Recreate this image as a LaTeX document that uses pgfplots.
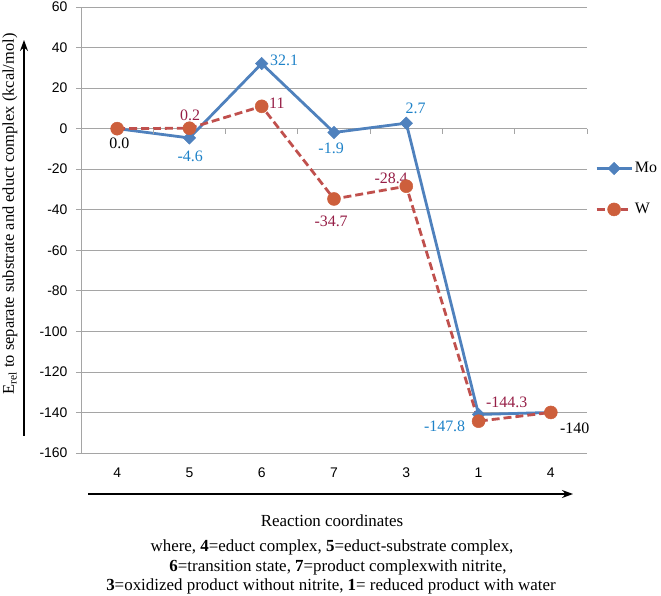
\documentclass[border=0pt]{standalone}
\usepackage{fontspec}
\setmainfont{Liberation Serif}
\setsansfont{Liberation Sans}
\usepackage{pgfplots}
\pgfplotsset{compat=1.18}
\usetikzlibrary{arrows.meta}
\definecolor{moblue}{RGB}{79,129,189}
\definecolor{wred}{RGB}{192,80,77}
\definecolor{wmark}{RGB}{205,95,60}
\definecolor{molab}{RGB}{30,130,200}
\definecolor{wlab}{RGB}{150,30,70}
\definecolor{gridg}{RGB}{165,165,165}
\begin{document}
\begin{tikzpicture}[font=\fontsize{16}{19.5}\selectfont]
\path[use as bounding box] (0,0) rectangle (661bp,596bp);
\begin{axis}[
  at={(81bp,143bp)}, anchor=south west, scale only axis,
  width=506bp, height=446bp,
  xmin=-0.5, xmax=6.5, ymin=-160, ymax=60,
  clip=false,
  ytick={-160,-140,...,60},
  xtick={0,...,6}, xticklabels={4,5,6,7,3,1,4},
  axis lines*=left,
  axis line style={draw=gridg, line width=0.8pt},
  ymajorgrids, grid style={draw=gridg, line width=0.8pt},
  x tick style={draw=none},
  y tick style={draw=gridg, line width=0.8pt},
  tick align=outside, major tick length=5bp,
  ticklabel style={font=\sffamily\fontsize{14}{16}\selectfont},
  /pgf/number format/assume math mode=true,
  yticklabel style={xshift=-5bp},
  xticklabel style={yshift=-6bp},
  legend style={at={(1,0.592)}, anchor=west, draw=none, fill=none, inner sep=0pt, xshift=8bp,
    row sep=25bp, font=\fontsize{16}{19}\selectfont},
  legend cell align=left,
  legend image code/.code={
    \draw[#1,mark=none] (0bp,0bp) -- (35bp,0bp);
    \draw[#1] plot coordinates {(17.5bp,0bp)};
  },
]
\addplot[moblue, line width=2.8pt, mark=square*, mark size=4.4bp,
  mark options={fill=moblue, draw=moblue, solid, rotate=45, line width=0.5pt}]
  coordinates {(0,0) (1,-4.6) (2,32.1) (3,-1.9) (4,2.7) (5,-141) (6,-140)};
\addlegendentry{Mo}
\addplot[wred, line width=2.8pt, dash pattern=on 8pt off 4pt, mark=*, mark size=6.5bp,
  mark options={fill=wmark, draw=wmark, solid, line width=0.5pt}]
  coordinates {(0,0) (1,0.2) (2,11) (3,-34.7) (4,-28.4) (5,-144.3) (6,-140)};
\addlegendentry{W}
\pgfplotsinvokeforeach{0.5,1.5,2.5,3.5,4.5,5.5,6.5}{
  \draw[gridg, line width=0.8pt] (axis cs:#1,0) -- ([yshift=-5bp]axis cs:#1,0);
}
\node[black] at (axis cs:0.03,-7.3) {0.0};
\node[molab] at (axis cs:1.01,-13.5) {-4.6};
\node[wlab] at (axis cs:1.01,6.6) {0.2};
\node[molab] at (axis cs:2.31,33.7) {32.1};
\node[wlab] at (axis cs:2.21,12.4) {11};
\node[molab] at (axis cs:2.96,-9.7) {-1.9};
\node[wlab] at (axis cs:2.96,-45.7) {-34.7};
\node[wlab] at (axis cs:3.79,-24.5) {-28.4};
\node[molab] at (axis cs:4.13,10.0) {2.7};
\node[wlab] at (axis cs:5.39,-135.0) {-144.3};
\node[molab] at (axis cs:4.53,-146.9) {-147.8};
\node[black] at (axis cs:6.33,-147.9) {-140};
\end{axis}
\node[rotate=90, font=\fontsize{16.5}{19}\selectfont] at (10bp,382bp) {E\textsubscript{rel} to separate substrate and educt complex (kcal/mol)};
\draw[-{Stealth[length=11bp,width=8bp]}, line width=1.2pt] (24bp,160bp) -- (24bp,556bp);
\draw[-{Stealth[length=11bp,width=8bp]}, line width=1.2pt] (88bp,102bp) -- (573bp,102bp);
\begin{scope}[font=\fontsize{17}{20}\selectfont]
\node at (332bp,75bp) {Reaction coordinates};
\node at (332bp,49bp) {where, \textbf{4}=educt complex, \textbf{5}=educt-substrate complex,};
\node at (338bp,29bp) {\textbf{6}=transition state, \textbf{7}=product complexwith nitrite,};
\node at (331bp,10bp) {\textbf{3}=oxidized product without nitrite, \textbf{1}= reduced product with water};
\end{scope}
\end{tikzpicture}
\end{document}
